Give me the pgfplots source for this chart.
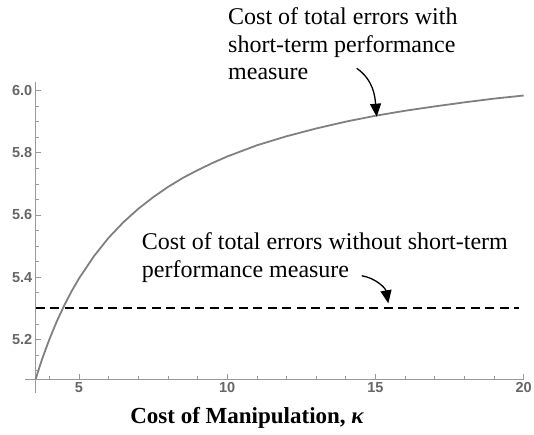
\documentclass[border=0pt]{standalone}
\usepackage{fontspec}
\setmainfont{Liberation Serif}
\newfontfamily\ticksf{Liberation Sans}
\usepackage{pgfplots}
\pgfplotsset{compat=1.18}
\usetikzlibrary{arrows.meta}
\definecolor{axgray}{HTML}{999999}
\definecolor{lblgray}{HTML}{666666}
\definecolor{curvegray}{HTML}{808080}
\begin{document}
\begin{tikzpicture}[x=1pt,y=1pt]
\useasboundingbox (0,0) rectangle (534,434);
\begin{axis}[
  at={(35.7pt,55pt)}, anchor=south west,
  scale only axis, width=488pt, height=297.5pt,
  xmin=3.54, xmax=20, ymin=5.073, ymax=6.029,
  axis lines=left,
  axis line style={axgray, line width=0.7pt, -},
  xtick={5,10,15,20},
  minor xtick={4,6,7,8,9,11,12,13,14,16,17,18,19},
  ytick={5.2,5.4,5.6,5.8,6.0},
  yticklabels={5.2,5.4,5.6,5.8,6.0},
  minor ytick={5.1,5.15,5.25,5.3,5.35,5.45,5.5,5.55,5.65,5.7,5.75,5.85,5.9,5.95},
  tick align=inside,
  major tick length=5pt, minor tick length=3pt,
  tick style={axgray, line width=0.7pt},
  /pgf/number format/assume math mode=true,
  ticklabel style={font=\ticksf\bfseries\fontsize{14.5}{16}\selectfont, text=lblgray},
  clip=false,
]
\addplot[color=curvegray, line width=1.8pt] coordinates {
(3.54,5.073) (3.65,5.106) (3.75,5.135) (3.875,5.168) (4.0,5.200) (4.25,5.258)
(4.5,5.309) (4.75,5.355) (5,5.396) (5.5,5.467) (6,5.527) (6.5,5.577)
(7,5.620) (7.5,5.657) (8,5.690) (8.5,5.719) (9,5.744) (9.5,5.767)
(10,5.788) (11,5.824) (12,5.853) (13,5.878) (14,5.900) (15,5.919)
(16,5.935) (17,5.949) (18,5.962) (19,5.974) (20,5.984)
};
\addplot[black, line width=1.8pt, dash pattern=on 9pt off 5.5pt] coordinates {(3.54,5.3) (19.85,5.3)};
\draw[axgray, line width=0.7pt] (rel axis cs:0,0) -- ++(0pt,-14pt);
\draw[axgray, line width=0.7pt] (rel axis cs:0,0) -- ++(-10.7pt,0pt);
\end{axis}
\node[anchor=base west, align=left, inner sep=0pt, font=\fontsize{24}{27.5}\selectfont] at (228,354)
  {Cost of total errors with\\short-term performance\\measure};
\node[anchor=base west, align=left, inner sep=0pt, font=\fontsize{24}{27.5}\selectfont] at (141.7,156.7)
  {Cost of total errors without short-term\\performance measure};
\draw[-{Triangle[length=13pt,width=11pt]}, line width=1.3pt] (356.7,365.7) to[out=-35,in=95] (376.7,317.3);
\draw[-{Triangle[length=13pt,width=11pt]}, line width=1.3pt] (361.7,158.3) to[out=-10,in=100] (388.3,130.7);
\node[anchor=base, inner sep=0pt, font=\bfseries\fontsize{23}{26}\selectfont] at (247,11)
  {Cost of Manipulation, {\itshape κ}};
\end{tikzpicture}
\end{document}
